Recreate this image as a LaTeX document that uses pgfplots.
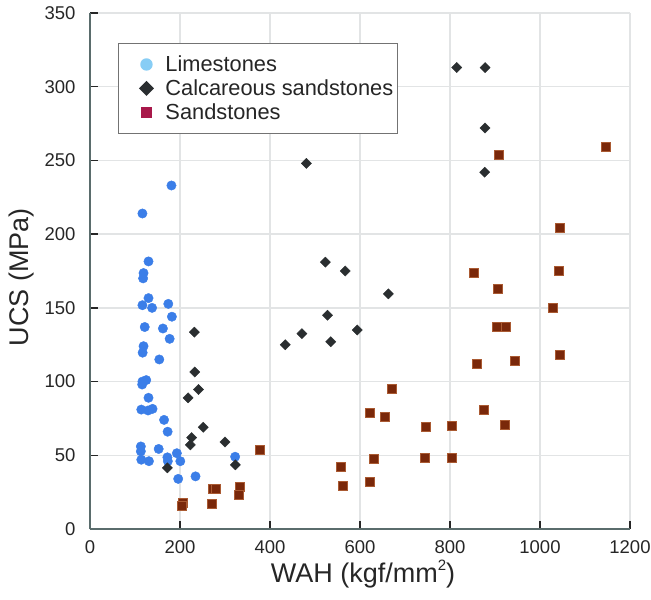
\documentclass[border=0pt]{standalone}
\usepackage{fontspec}
\setmainfont{Liberation Sans}
\usepackage{pgfplots}
\pgfplotsset{compat=1.18}
\definecolor{limeblue}{RGB}{59,126,232}
\definecolor{limelegend}{RGB}{135,205,245}
\definecolor{calcdark}{RGB}{42,46,48}
\definecolor{sandbrown}{RGB}{122,40,10}
\definecolor{sandedge}{RGB}{170,90,50}
\definecolor{sandlegend}{RGB}{168,24,74}
\definecolor{axisgray}{RGB}{90,108,108}
\definecolor{gridgray}{RGB}{226,228,229}
\begin{document}
\begin{tikzpicture}
\begin{axis}[
  name=ax,
  scale only axis,
  width=540pt, height=516pt,
  xmin=0, xmax=1200, ymin=0, ymax=350,
  xtick distance=200, ytick distance=50,
  axis x line*=bottom, axis y line*=left,
  axis line style={axisgray, line width=2.4pt, -},
  grid=major,
  major grid style={gridgray, line width=1.3pt},
  tick align=inside,
  major tick length=8pt,
  tick style={black!85, line width=1.3pt},
  /pgf/number format/assume math mode=true,
  /pgf/number format/1000 sep={},
  ticklabel style={font=\fontsize{18.5}{18.5}\selectfont, text=black!85},
  yticklabel style={xshift=-11pt},
  xticklabel style={yshift=-8pt},
  xlabel={WAH (kgf/mm\raisebox{0.42em}{\fontsize{15}{15}\selectfont 2})},
  ylabel={UCS (MPa)},
  label style={font=\fontsize{27}{27}\selectfont, text=black!85},
  xlabel style={at={(rel axis cs:0.5,0)}, anchor=base, yshift=-53pt, xshift=3pt},
  ylabel style={at={(rel axis cs:0,0.5)}, anchor=base, yshift=61pt, xshift=-6pt},
  legend style={at={(rel axis cs:0.052,0.942)}, anchor=north west,
    draw=black!55, line width=0.8pt, fill=white,
    font=\fontsize{21.8}{24}\selectfont, text=black!85,
    inner xsep=2pt, inner ysep=10.5pt, row sep=2.5pt,
    /tikz/every odd column/.append style={column sep=0pt}},
  legend cell align=left,
  clip=false,
]
\addlegendimage{legend image code/.code={\fill[limelegend, draw=none] (26pt,0pt) circle (6.2pt); \path[draw=none, fill=none] (0pt,0pt) -- (43pt,0pt);}}
\addlegendentry{Limestones}
\addlegendimage{legend image code/.code={\fill[calcdark, draw=none] (26pt,-7.5pt) -- (33.5pt,0pt) -- (26pt,7.5pt) -- (18.5pt,0pt) -- cycle; \path[draw=none, fill=none] (0pt,0pt) -- (43pt,0pt);}}
\addlegendentry{Calcareous sandstones}
\addlegendimage{legend image code/.code={\fill[sandlegend, draw=none] (20.5pt,-5.5pt) rectangle (31.5pt,5.5pt); \path[draw=none, fill=none] (0pt,0pt) -- (43pt,0pt);}}
\addlegendentry{Sandstones}

% Limestones
\addplot[forget plot, only marks, mark=*, mark size=4.7pt, color=limeblue] coordinates {
(181,233) (116.5,214) (130,181.5) (119,173.6) (118,170) (130,156.6) (116.5,151.8)
(138,150) (174,152.7) (182,144) (121.6,137) (162,136) (177,129) (119,124)
(117,119.6) (154,115) (125,101) (116.5,100) (116,98) (130,89) (114,81)
(129,80.4) (139,81.5) (164.6,74) (172.5,66) (113,56) (113,52.7) (152.6,54.3)
(114,47) (131,46) (172,48.6) (173,46) (193,51.4) (200.7,46) (196,34)
(234.5,35.7) (322.5,49)
};
% Calcareous sandstones
\addplot[forget plot, only marks, mark=square*, mark size=3.6pt, mark options={rotate=45}, color=calcdark] coordinates {
(815,313) (878,313) (878,272) (877,242) (481,248) (523,181) (567,175)
(663,159.5) (528,145) (594,135) (471,132.5) (434,125) (535,127)
(232,133.5) (233,106.5) (241,94.6) (218,89) (251.5,69) (226,62)
(223,57) (300,59) (323,43.5) (172,41.5)
};
% Sandstones
\addplot[forget plot, only marks, mark=square*, mark size=4.5pt, mark options={fill=sandbrown, draw=sandedge, line width=0.6pt}] coordinates {
(1147,259) (909,253.5) (1045,204) (852,174) (1042,175) (907,163) (1029,150)
(905,137) (923,137) (859,112) (944,114) (1045,118) (670,95) (622,78.5)
(655,76) (875,81) (746,69.4) (803,70) (922,71) (377,54) (630,47.5)
(743,48) (803,48.6) (557,42) (561,29) (622,32) (206,18) (205,15.5)
(273,27) (280,27.5) (271,17) (333,28.4) (331,23)
};
\end{axis}
\pgfresetboundingbox
\path[use as bounding box] (ax.south west) ++(-90pt,-71pt) rectangle ++(651pt,600pt);
\end{tikzpicture}
\end{document}
